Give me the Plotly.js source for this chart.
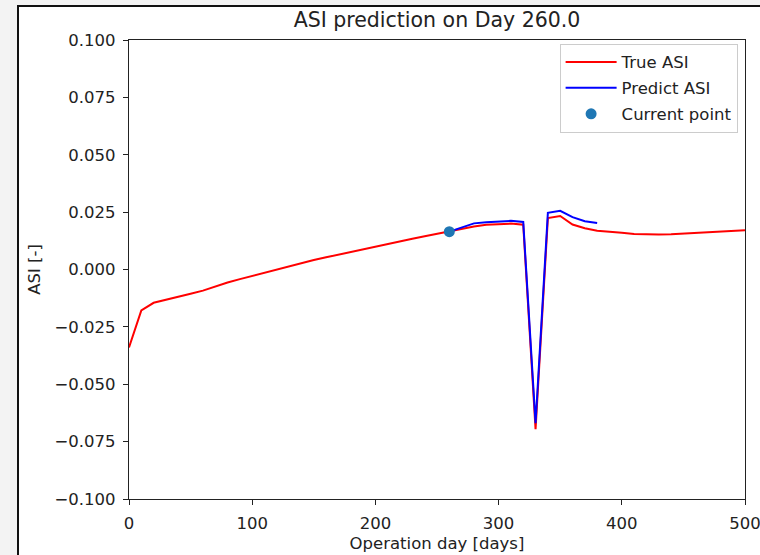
<!DOCTYPE html>
<html><head><meta charset="utf-8">
<script src="https://cdn.plot.ly/plotly-3.0.1.min.js"></script>
<style>
html,body{margin:0;padding:0;background:#f3f3f3;overflow:hidden;width:760px;height:555px;}
#frame{position:absolute;left:17px;top:5px;width:800px;height:600px;background:#fff;border-left:2px solid #111;border-top:2px solid #111;}
#chart{position:absolute;left:0;top:0;width:800px;height:555px;}
</style></head><body>
<div id="frame"></div>
<div id="chart"></div>
<script>
const trueDays = [0,10,20,30,40,50,60,70,80,90,100,110,120,130,140,150,160,170,180,190,200,210,220,230,240,250,260,270,280,290,300,310,320,330,340,350,360,370,380,390,400,410,420,430,440,450,460,470,480,490,500];
const trueASI = [-0.034,-0.0178,-0.0145,-0.0133,-0.012,-0.0106,-0.0092,-0.0074,-0.0057,-0.0042,-0.0028,-0.0014,0.0,0.0015,0.0028,0.0041,0.0053,0.0065,0.0076,0.0087,0.0099,0.011,0.0122,0.0134,0.0145,0.0156,0.0165,0.0176,0.0187,0.0195,0.0199,0.02,0.0195,-0.0696,0.0224,0.0233,0.0196,0.018,0.0169,0.0163,0.016,0.0155,0.0153,0.0153,0.0154,0.0157,0.016,0.0163,0.0166,0.0169,0.0171];
const predDays = [260,270,280,290,300,310,320,330,340,350,360,370,380];
const predASI = [0.0165,0.0182,0.0201,0.0206,0.0209,0.0212,0.0207,-0.067,0.0247,0.0256,0.0228,0.021,0.0203];
const currentDay = [260];
const currentASI = [0.0165];
const yTicks = [-0.1,-0.075,-0.05,-0.025,0,0.025,0.05,0.075,0.1];
const xTicks = [0,100,200,300,400,500];

const font = "DejaVu Sans, sans-serif";
const fs = 16.5;
const traces = [
  {x: trueDays, y: trueASI, mode:'lines', name:'True ASI', legendgroup:'a', line:{color:'red', width:2}},
  {x: predDays, y: predASI, mode:'lines', name:'Predict ASI', legendgroup:'b', line:{color:'blue', width:2}},
  {x: currentDay, y: currentASI, mode:'markers', name:'Current point', legendgroup:'c', marker:{color:'#1f77b4', size:11}}
];
const axisCommon = {showgrid:false, zeroline:false, showline:true, linecolor:'#222', linewidth:1.2, mirror:true, ticks:'outside', ticklen:5, tickcolor:'#222', ticklabelstandoff:4, ticklabeloverflow:'allow', tickfont:{family:font, size:fs, color:'#222'}};
const layout = {
  width:800, height:555,
  paper_bgcolor:'rgba(0,0,0,0)', plot_bgcolor:'#fff',
  margin:{l:129, r:55, t:40, b:56},
  title:{text:'ASI prediction on Day 260.0', font:{family:font, size:20.5, color:'#222'}, x:0.5, xref:'paper', y:20, yref:'container', yanchor:'middle'},
  xaxis: Object.assign({}, axisCommon, {range:[0,500], tickvals:xTicks, ticktext:xTicks.map(String), title:{text:'Operation day [days]', font:{family:font, size:fs, color:'#222'}, standoff:5}}),
  yaxis: Object.assign({}, axisCommon, {range:[-0.1,0.1], tickvals:yTicks, tickformat:'.3f', title:{text:'ASI [-]', font:{family:font, size:fs, color:'#222'}, standoff:9}}),
  showlegend:true,
  legend:{x:0.988, y:0.992, xanchor:'right', yanchor:'top', bgcolor:'rgba(255,255,255,0.8)', bordercolor:'#ccc', borderwidth:1, font:{family:font, size:fs, color:'#222'}, tracegroupgap:1.5, itemwidth:51}
};
Plotly.newPlot('chart', traces, layout, {displayModeBar:false, staticPlot:true});
</script>
</body></html>
